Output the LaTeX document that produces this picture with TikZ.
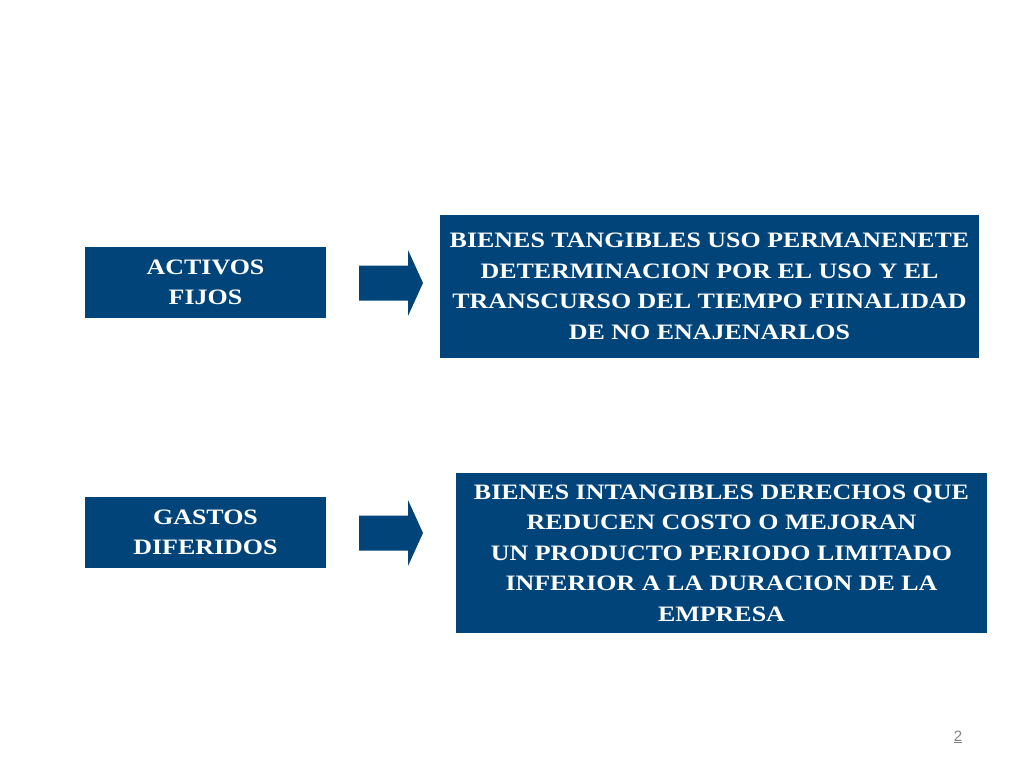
\documentclass[tikz,border=0pt]{standalone}
\usepackage{fontspec}
\setmainfont[FakeStretch=1.18]{Liberation Serif}
\setsansfont{Liberation Sans}
\definecolor{azul}{RGB}{0,68,122}

\begin{document}
\begin{tikzpicture}[x=1pt, y=-1pt,
    caja/.style={fill=azul, text=white, inner sep=0pt, align=center,
      font=\fontsize{22}{30.5}\selectfont\bfseries},
    flecha/.style={fill=azul}]

  \useasboundingbox (0,0) rectangle (1024,768);

  % Conceptos
  \node[caja, minimum width=241, minimum height=71] (activos) at (205.5, 282.5) {ACTIVOS\\ FIJOS};
  \node[caja, minimum width=241, minimum height=71] (gastos)  at (205.5, 532.5) {GASTOS\\ DIFERIDOS};

  % Definiciones
  \node[caja, minimum width=539, minimum height=143] (tangibles) at (709.5, 286.5)
    {BIENES TANGIBLES USO PERMANENETE\\ DETERMINACION POR EL USO Y EL\\
     TRANSCURSO DEL TIEMPO FIINALIDAD\\ DE NO ENAJENARLOS};
  \node[caja, minimum width=531, minimum height=160] (intangibles) at (721.5, 553)
    {BIENES INTANGIBLES DERECHOS QUE\\ REDUCEN COSTO O MEJORAN\\
     UN PRODUCTO PERIODO LIMITADO\\ INFERIOR A LA DURACION DE LA\\ EMPRESA};

  % Flechas
  \foreach \y in {283, 533} {
    \fill[flecha] (359, \y-17.5) -- (408, \y-17.5) -- (408, \y-33) -- (423, \y)
      -- (408, \y+33) -- (408, \y+17.5) -- (359, \y+17.5) -- cycle;
  }

  %\draw (activos) -- (tangibles);

  \node[text=gray, font=\sffamily\fontsize{15}{15}\selectfont] (pagina) at (958, 737) {\underline{2}};
\end{tikzpicture}
\end{document}
